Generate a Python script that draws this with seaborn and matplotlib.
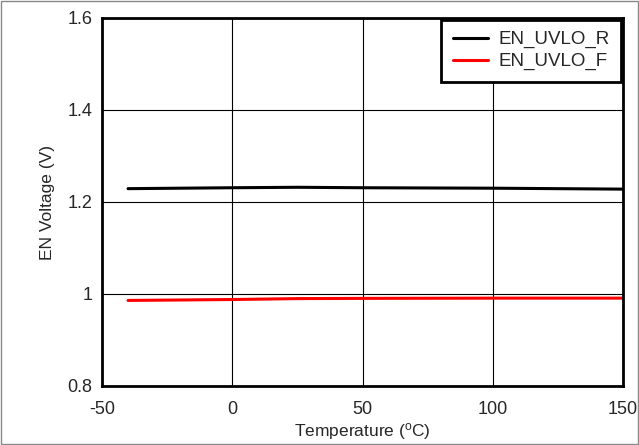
import numpy as np
import pandas as pd
import seaborn as sns
import matplotlib.pyplot as plt

temps = [-40, 0, 25, 50, 100, 150]
en_uvlo_r = [1.229, 1.231, 1.232, 1.231, 1.230, 1.228]
en_uvlo_f = [0.986, 0.988, 0.990, 0.9905, 0.991, 0.991]

df = pd.DataFrame({
    'Temperature': temps + temps,
    'Voltage': en_uvlo_r + en_uvlo_f,
    'Series': ['EN_UVLO_R'] * len(temps) + ['EN_UVLO_F'] * len(temps),
})

sns.set_style('white')
plt.rcParams['font.family'] = ['Liberation Sans', 'DejaVu Sans']
plt.rcParams['axes.unicode_minus'] = False

fig = plt.figure(figsize=(6.39, 4.45), dpi=100)
ax = fig.add_axes([102 / 639, 1 - 386 / 445, 521 / 639, 368 / 445])

sns.lineplot(data=df, x='Temperature', y='Voltage', hue='Series',
             palette={'EN_UVLO_R': 'black', 'EN_UVLO_F': 'red'},
             linewidth=2.2, ax=ax)

ax.set_xlim(-50, 150)
ax.set_ylim(0.8, 1.6)
ax.set_xticks([-50, 0, 50, 100, 150])
ax.set_yticks([0.8, 1.0, 1.2, 1.4, 1.6])
ax.set_yticklabels(['0.8', '1', '1.2', '1.4', '1.6'])
ax.grid(True, color='black', linewidth=0.8)
ax.tick_params(labelsize=13, length=0)
ax.tick_params(axis='x', pad=11)
ax.tick_params(axis='y', pad=7)
for s in ax.spines.values():
    s.set_linewidth(2)
    s.set_color('black')

ax.set_xlabel('Temperature ($\\mathregular{^{o}}$C)', fontsize=12.5, labelpad=2)
ax.set_ylabel('EN Voltage (V)', fontsize=12.5, labelpad=9)

leg = ax.legend(loc='upper right', fontsize=13.5, frameon=True, fancybox=False,
                borderaxespad=0.1, handlelength=1.9, handletextpad=0.55,
                labelspacing=0.25, borderpad=0.6)
leg.get_frame().set_edgecolor('black')
leg.get_frame().set_linewidth(2)
leg.get_frame().set_alpha(1)

fig.patches.append(plt.Rectangle((0.002, 0.002), 0.996, 0.996, transform=fig.transFigure,
                                 fill=False, edgecolor='#888888', linewidth=1))

fig.savefig('out.png', dpi=100)
